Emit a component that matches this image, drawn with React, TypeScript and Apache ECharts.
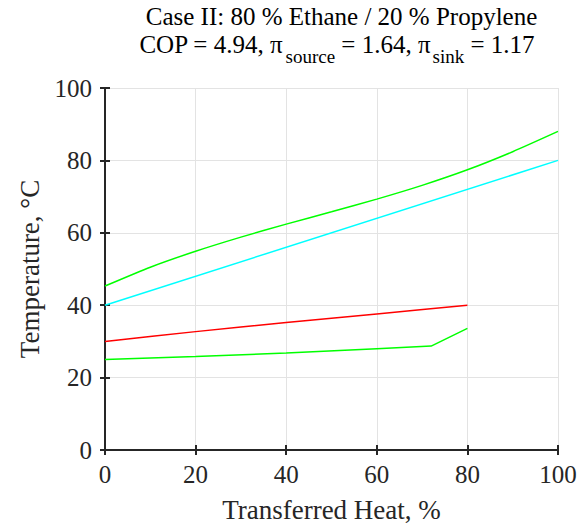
import React, { useEffect, useRef } from "react";
import * as echarts from "echarts";

const xTicks = [0, 20, 40, 60, 80, 100];
const yTicks = [0, 20, 40, 60, 80, 100];

const sinkHotX = [0, 10, 20, 30, 40, 50, 60, 70, 80, 90, 100];
const sinkHotY = [45.3, 50.5, 54.9, 58.8, 62.4, 65.8, 69.3, 73.1, 77.4, 82.4, 88.0];

const sinkWaterX = [0, 100];
const sinkWaterY = [40, 80];

const sourceWaterX = [0, 20, 40, 60, 80];
const sourceWaterY = [30, 32.7, 35.2, 37.6, 40];

const sourceRefX = [0, 20, 40, 60, 72, 80];
const sourceRefY = [25, 25.8, 26.8, 28.0, 28.7, 33.6];

const titleLine1 = "Case II: 80 % Ethane / 20 % Propylene";
const titleLine2Parts = ["COP = 4.94, π", "source", "= 1.64, π", "sink", "= 1.17"];
const titleLine2IsSub = [false, true, false, true, false];
const xName = "Transferred Heat, %";
const yName = "Temperature, °C";

const FONT = "Liberation Serif";

function zip(xs: number[], ys: number[]) {
  return xs.map((x, i) => [x, ys[i]]);
}

function makeMeasurer() {
  const canvas = document.createElement("canvas");
  const ctx = canvas.getContext("2d");
  return (t: string, size: number) => {
    if (!ctx) return t.length * size * 0.45;
    ctx.font = `${size}px "${FONT}"`;
    return ctx.measureText(t).width;
  };
}

export default function App() {
  const ref = useRef<HTMLDivElement>(null);
  useEffect(() => {
    if (!ref.current) return;
    const chart = echarts.init(ref.current, undefined, { renderer: "svg" });
    const axisColor = "#262626";
    const baseX = { type: "value" as const, min: 0, max: 100, interval: 20 };
    const baseY = { type: "value" as const, min: 0, max: 100, interval: 20 };

    const mw = makeMeasurer();
    const MAIN = 25;
    const SUB = 19;
    const spaceW = mw(" ", MAIN);

    // title line 1 (centred)
    const w1 = mw(titleLine1, MAIN);
    const line1X = 341.5 - w1 / 2;

    // title line 2 with subscripts (centred)
    const gaps: number[] = [];
    const widths: number[] = [];
    titleLine2Parts.forEach((t, i) => {
      widths.push(mw(t, titleLine2IsSub[i] ? SUB : MAIN));
      if (i === 0) gaps.push(0);
      else gaps.push(titleLine2IsSub[i] ? 2 : spaceW);
    });
    const total = widths.reduce((a, b) => a + b, 0) + gaps.reduce((a, b) => a + b, 0);
    let cx = 337 - total / 2;
    const line2Graphics: any[] = [];
    titleLine2Parts.forEach((t, i) => {
      cx += gaps[i];
      const sub = titleLine2IsSub[i];
      line2Graphics.push({
        type: "text",
        x: cx,
        y: sub ? 47 : 32,
        style: { text: t, fontFamily: FONT, fontSize: sub ? SUB : MAIN, fill: "#000" },
      });
      cx += widths[i];
    });

    chart.setOption({
      animation: false,
      backgroundColor: "#ffffff",
      grid: { left: 105, right: 25, top: 88, bottom: 77, containLabel: false },
      graphic: [
        {
          type: "text",
          x: line1X,
          y: 4,
          style: { text: titleLine1, fontFamily: FONT, fontSize: MAIN, fill: "#000" },
        },
        ...line2Graphics,
      ],
      xAxis: [
        {
          ...baseX,
          position: "bottom",
          name: xName,
          nameLocation: "middle",
          nameGap: 46,
          nameTextStyle: { fontFamily: FONT, fontSize: 27, color: "#262626" },
          axisLine: { show: true, lineStyle: { color: axisColor, width: 2 } },
          axisTick: { show: true, inside: true, length: 5, lineStyle: { color: axisColor, width: 2 } },
          axisLabel: {
            show: true,
            margin: 12,
            fontFamily: FONT,
            fontSize: 25,
            color: "#262626",
            formatter: (v: number) => (xTicks.includes(v) ? String(v) : ""),
          },
          splitLine: { show: true, lineStyle: { color: "#e3e3e3", width: 1 } },
        },
        {
          ...baseX,
          position: "top",
          axisLine: { show: true, lineStyle: { color: axisColor, width: 2 } },
          axisTick: { show: true, inside: true, length: 5, lineStyle: { color: axisColor, width: 2 } },
          axisLabel: { show: false },
          splitLine: { show: false },
        },
      ],
      yAxis: [
        {
          ...baseY,
          position: "left",
          name: yName,
          nameLocation: "middle",
          nameGap: 62,
          nameRotate: 90,
          nameTextStyle: { fontFamily: FONT, fontSize: 27, color: "#262626" },
          axisLine: { show: true, lineStyle: { color: axisColor, width: 2 } },
          axisTick: { show: true, inside: true, length: 5, lineStyle: { color: axisColor, width: 2 } },
          axisLabel: {
            show: true,
            margin: 13,
            fontFamily: FONT,
            fontSize: 25,
            color: "#262626",
            formatter: (v: number) => (yTicks.includes(v) ? String(v) : ""),
          },
          splitLine: { show: true, lineStyle: { color: "#e3e3e3", width: 1 } },
        },
        {
          ...baseY,
          position: "right",
          axisLine: { show: true, lineStyle: { color: axisColor, width: 2 } },
          axisTick: { show: true, inside: true, length: 5, lineStyle: { color: axisColor, width: 2 } },
          axisLabel: { show: false },
          splitLine: { show: false },
        },
      ],
      series: [
        {
          type: "line",
          data: zip(sinkHotX, sinkHotY),
          smooth: 0.2,
          showSymbol: false,
          lineStyle: { color: "#00ff00", width: 1.5 },
          itemStyle: { color: "#00ff00" },
          z: 3,
        },
        {
          type: "line",
          data: zip(sinkWaterX, sinkWaterY),
          showSymbol: false,
          lineStyle: { color: "#00ffff", width: 1.5 },
          itemStyle: { color: "#00ffff" },
          z: 3,
        },
        {
          type: "line",
          data: zip(sourceWaterX, sourceWaterY),
          smooth: 0.2,
          showSymbol: false,
          lineStyle: { color: "#ff0000", width: 1.5 },
          itemStyle: { color: "#ff0000" },
          z: 3,
        },
        {
          type: "line",
          data: zip(sourceRefX, sourceRefY),
          showSymbol: false,
          lineStyle: { color: "#00ff00", width: 1.5 },
          itemStyle: { color: "#00ff00" },
          z: 3,
        },
      ],
    });
    return () => chart.dispose();
  }, []);
  return <div ref={ref} style={{ width: 583, height: 528, position: "absolute", left: 0, top: 0 }} />;
}
